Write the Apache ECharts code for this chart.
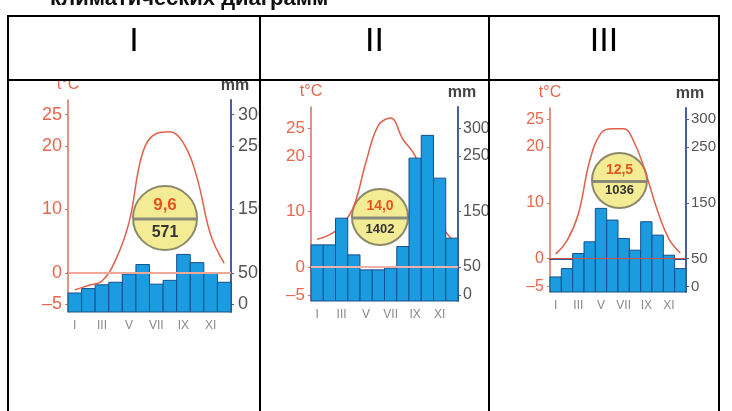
<!DOCTYPE html>
<html>
<head>
<meta charset="utf-8">
<script src="https://cdn.jsdelivr.net/npm/echarts@6/dist/echarts.min.js"></script>
<style>
  body { margin: 0; background: #fff; }
  #page { position: absolute; left: 0; top: 0; width: 732px; height: 411px; }
  .cell { position: absolute; }
</style>
</head>
<body>
<div id="page"></div>
<div class="cell" id="c1"></div>
<div class="cell" id="c2"></div>
<div class="cell" id="c3"></div>
<script>
// данные климатограмм
var months = ['I', 'II', 'III', 'IV', 'V', 'VI', 'VII', 'VIII', 'IX', 'X', 'XI', 'XII'];
var headers = ['I', 'II', 'III'];
var tempI = [-2.7, -2, -1.3, 2, 8, 19, 22, 22.3, 20.5, 15, 6, 1.5];
var precipI = [18, 25, 31, 35, 48, 63, 32, 38, 79, 66, 50, 35];
var tempII = [5, 5.8, 7.5, 11, 19, 25.5, 26.8, 23, 20, 14, 8, 5];
var precipII = [90, 90, 138, 72, 45, 45, 48, 87, 246, 287, 210, 102];
var tempIII = [0.8, 3.2, 8, 17.5, 22.5, 23.3, 23.3, 20.5, 15, 8.5, 3.5, 1];
var precipIII = [17, 32, 59, 80, 140, 119, 86, 65, 116, 92, 56, 32];
var meanTemp = ['9,6', '14,0', '12,5'];
var totalPrecip = ['571', '1402', '1036'];
var tempTicks = [-5, 0, 10, 20, 25];
var precipTicks = [0, 50, 150, 250, 300];

// таблица и заголовок
var page = echarts.init(document.getElementById('page'));
var lineStyle = { stroke: '#000', lineWidth: 2 };
var cols = [8, 260, 489, 719];
var tableTop = 16, headBottom = 80;
var graphics = [
    { type: 'text', left: 50, top: -12, style: { text: 'климатических диаграмм', font: 'bold 22px Arial', fill: '#111' } },
    { type: 'line', shape: { x1: cols[0] - 1, y1: tableTop, x2: cols[3] + 1, y2: tableTop }, style: lineStyle },
    { type: 'line', shape: { x1: cols[0], y1: headBottom, x2: cols[3], y2: headBottom }, style: lineStyle }
];
cols.forEach(function (x) {
    graphics.push({ type: 'line', shape: { x1: x, y1: tableTop, x2: x, y2: 411 }, style: lineStyle });
});
headers.forEach(function (h, i) {
    graphics.push({
        type: 'text', x: (cols[i] + cols[i + 1]) / 2, y: 42,
        style: { text: h, font: '34px Arial', fill: '#000', align: 'center', verticalAlign: 'middle' }
    });
});
page.setOption({ graphic: graphics });

// три диаграммы
var cfg = [
    { el: 'c1', box: [9, 81, 250, 330], grid: [59, 19, 163, 212], t: [-6.2, 27.3], temp: tempI, precip: precipI,
      circle: [156, 137, 32], dy: [-13, 15], fs: 17, lf: 18, rf: 18, rm: 7, zLine: 3, zero: '#f0a898', zeroW: 2 },
    { el: 'c2', box: [261, 81, 227, 330], grid: [50, 26, 147, 194], t: [-6.1, 28.8], temp: tempII, precip: precipII,
      circle: [119, 136, 28], dy: [-11, 12], fs: 14, lf: 17, rf: 16, rm: 5, zLine: 1, zero: '#f3b0a8', zeroW: 2 },
    { el: 'c3', box: [491, 81, 226, 330], grid: [59, 27, 136, 184], t: [-6.0, 27.0], temp: tempIII, precip: precipIII,
      circle: [128.5, 99.5, 27.5], dy: [-10, 10], fs: 14, lf: 16, rf: 15, rm: 5, zLine: 3, zero: '#d8503c', zeroW: 1 }
];

cfg.forEach(function (c, k) {
    var dom = document.getElementById(c.el);
    dom.style.left = c.box[0] + 'px';
    dom.style.top = c.box[1] + 'px';
    dom.style.width = c.box[2] + 'px';
    dom.style.height = c.box[3] + 'px';
    var chart = echarts.init(dom);

    var r = c.circle[2];
    var option = {
        animation: false,
        grid: { left: c.grid[0], top: c.grid[1], width: c.grid[2], height: c.grid[3], outerBoundsMode: 'none' },
        xAxis: {
            type: 'category',
            data: months,
            axisLine: { lineStyle: { color: '#2f5c9c', width: 2 } },
            axisTick: { show: false },
            axisLabel: { interval: 1, color: '#8a8a8a', fontSize: 12, fontFamily: 'Arial', margin: 8 }
        },
        yAxis: [{
            type: 'value',
            position: 'left',
            min: c.t[0],
            max: c.t[1],
            name: 't°C',
            nameGap: 7,
            nameTextStyle: { color: '#e5674e', fontSize: 16, fontFamily: 'Arial' },
            axisLine: { show: true, lineStyle: { color: '#d47060', width: 1.5 } },
            axisTick: { show: true, length: 3, customValues: tempTicks, lineStyle: { color: '#d47060' } },
            axisLabel: {
                customValues: tempTicks, color: '#e5674e', fontSize: c.lf, fontFamily: 'Arial', margin: 6,
                formatter: function (v) { return v < 0 ? '–' + (-v) : v; }
            },
            splitLine: { show: false }
        }, {
            type: 'value',
            position: 'right',
            min: 50 + 10 * c.t[0],
            max: 50 + 10 * c.t[1],
            name: 'mm',
            nameGap: 6,
            nameTextStyle: { color: '#444', fontSize: 16, fontWeight: 'bold', fontFamily: 'Arial', padding: [0, 0, 0, 8] },
            axisLine: { show: true, lineStyle: { color: '#46609c', width: 2 } },
            axisTick: { show: true, length: 3, customValues: precipTicks, lineStyle: { color: '#46609c' } },
            axisLabel: { customValues: precipTicks, color: '#555', fontSize: c.rf, fontFamily: 'Arial', margin: c.rm },
            splitLine: { show: false }
        }],
        series: [{
            type: 'line',
            yAxisIndex: 0,
            data: c.temp,
            smooth: 0.4,
            symbol: 'none',
            z: c.zLine,
            lineStyle: { color: '#e0604a', width: 1.5 },
            markLine: {
                silent: true,
                symbol: 'none',
                label: { show: false },
                lineStyle: { color: c.zero, width: c.zeroW, type: 'solid' },
                data: [{ yAxis: 0 }]
            }
        }, {
            type: 'custom',
            yAxisIndex: 1,
            z: 2,
            data: c.precip.map(function (v, i) { return [i, v]; }),
            renderItem: function (params, api) {
                var top = api.coord([api.value(0), api.value(1)]);
                var base = params.coordSys.y + params.coordSys.height;
                var w = api.size([1, 0])[0];
                return {
                    type: 'rect',
                    shape: { x: top[0] - w / 2, y: top[1], width: w, height: base - top[1] },
                    style: { fill: '#1b9be0', stroke: '#16508a', lineWidth: 1 }
                };
            }
        }],
        graphic: [{
            type: 'group',
            x: c.circle[0],
            y: c.circle[1],
            z: 100,
            children: [
                { type: 'circle', shape: { cx: 0, cy: 0, r: r }, style: { fill: '#f4ec94', stroke: '#8c8a6a', lineWidth: 2 } },
                { type: 'line', shape: { x1: -r, y1: 1, x2: r, y2: 1 }, style: { stroke: '#8a8a78', lineWidth: 3 } },
                { type: 'text', x: 0, y: c.dy[0], style: { text: meanTemp[k], font: 'bold ' + c.fs + 'px Arial', fill: '#e8521c', align: 'center', verticalAlign: 'middle' } },
                { type: 'text', x: 0, y: c.dy[1], style: { text: totalPrecip[k], font: 'bold ' + (c.fs - 1) + 'px Arial', fill: '#333', align: 'center', verticalAlign: 'middle' } }
            ]
        }]
    };
    chart.setOption(option);
});
</script>
</body>
</html>
